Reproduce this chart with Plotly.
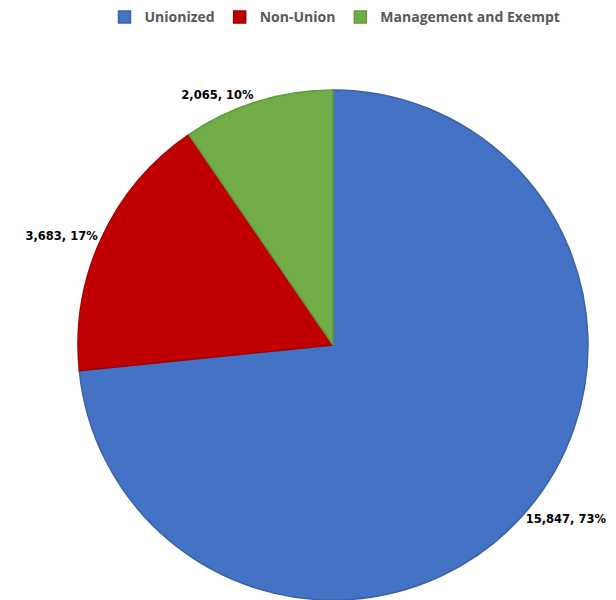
import plotly.graph_objects as go

categories = ["Unionized", "Non-Union", "Management and Exempt"]
values = [15847, 3683, 2065]
colors = ["#4472C4", "#C00000", "#70AD47"]
edge_colors = ["#3A62AA", "#A30000", "#5F9A3B"]

fig = go.Figure(go.Pie(
    labels=categories,
    values=values,
    sort=False,
    direction="clockwise",
    rotation=0,
    marker=dict(colors=colors, line=dict(color=edge_colors, width=1.5)),
    textposition="outside",
    texttemplate="<b>%{value:,}, %{percent:.0%}</b>",
    textfont=dict(family="DejaVu Sans", size=11.5, color="#000000"),
    domain=dict(x=[70/616, 580/616], y=[8/600, 518/600]),
    automargin=False,
    showlegend=True,
))

fig.update_layout(
    width=616, height=600,
    margin=dict(l=0, r=0, t=0, b=0, autoexpand=False),
    paper_bgcolor="white",
    legend=dict(
        orientation="h", x=327/616, xanchor="center", y=1.011, yanchor="top",
        font=dict(family="Open Sans", size=14, color="#595959", weight="bold"),
        itemwidth=30, traceorder="normal",
    ),
)

fig.write_html("out.html")
